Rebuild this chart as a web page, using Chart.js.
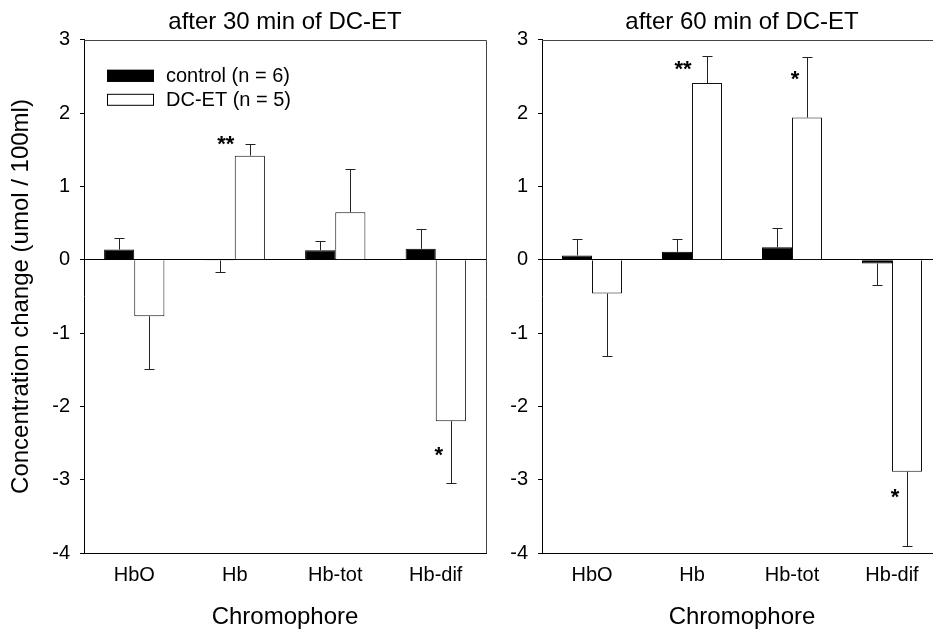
<!DOCTYPE html>
<html>
<head>
<meta charset="utf-8">
<script src="https://cdn.jsdelivr.net/npm/chart.js@4.4.0/dist/chart.umd.min.js"></script>
<style>
html, body { margin: 0; padding: 0; background: #fff; overflow: hidden; width: 933px; height: 629px; }
#left { position: absolute; left: 0; top: 0; }
#right { position: absolute; left: 488px; top: 0; }
</style>
</head>
<body>
<canvas id="left" width="490" height="629"></canvas>
<canvas id="right" width="458" height="629"></canvas>
<script>
////////////////// data //////////////////
var chromophores = ['HbO', 'Hb', 'Hb-tot', 'Hb-dif'];
var yTicks = [-4, -3, -2, -1, 0, 1, 2, 3];
var seriesNames = ['control (n = 6)', 'DC-ET (n = 5)'];

// after 30 min
var control30 = [0.14, -0.01, 0.13, 0.15];
var control30Err = [0.16, 0.15, 0.13, 0.27];
var dcet30 = [-0.77, 1.42, 0.65, -2.20];
var dcet30Err = [0.72, 0.16, 0.59, 0.84];
var stars30 = ['', '**', '', '*'];
var starLevel30 = [null, 1.60, null, -2.64];

// after 60 min
var control60 = [0.06, 0.11, 0.17, -0.05];
var control60Err = [0.22, 0.17, 0.26, 0.29];
var dcet60 = [-0.46, 2.41, 1.94, -2.89];
var dcet60Err = [0.85, 0.37, 0.83, 1.01];
var stars60 = ['', '**', '*', '*'];
var starLevel60 = [null, 2.63, 2.49, -3.20];

var FONT = "'Liberation Sans', Arial, sans-serif";

////////////////// plugins //////////////////
// error bars, drawn away from zero with a small cap
var errorBars = {
    id: 'errorBars',
    afterDatasetsDraw: function (chart) {
        var ctx = chart.ctx;
        var y = chart.scales.y;
        ctx.save();
        ctx.strokeStyle = '#222';
        ctx.lineWidth = 1;
        chart.data.datasets.forEach(function (ds, di) {
            var meta = chart.getDatasetMeta(di);
            meta.data.forEach(function (bar, i) {
                var v = ds.data[i];
                var end = v < 0 ? v - ds.errors[i] : v + ds.errors[i];
                var x = Math.round(bar.x) + 0.5;
                var y0 = y.getPixelForValue(v);
                var y1 = Math.round(y.getPixelForValue(end)) + 0.5;
                ctx.beginPath();
                ctx.moveTo(x, y0);
                ctx.lineTo(x, y1);
                ctx.moveTo(x - 5, y1);
                ctx.lineTo(x + 5, y1);
                ctx.stroke();
            });
        });
        ctx.restore();
    }
};

// significance stars next to the DC-ET bars
var starMarks = {
    id: 'starMarks',
    afterDatasetsDraw: function (chart, args, opts) {
        var ctx = chart.ctx;
        var meta = chart.getDatasetMeta(1);
        ctx.save();
        ctx.fillStyle = '#000';
        ctx.font = 'bold 22px ' + FONT;
        ctx.textAlign = 'center';
        ctx.textBaseline = 'alphabetic';
        opts.marks.forEach(function (m, i) {
            if (!m) return;
            var bar = meta.data[i];
            var x = bar.x - bar.width / 2 + (m.length > 1 ? -9 : 3);
            var yc = chart.scales.y.getPixelForValue(opts.levels[i]);
            ctx.fillText(m, x, yc + 9);
        });
        ctx.restore();
    }
};

// thin frame on top and right of the plot
var frame = {
    id: 'frame',
    beforeDatasetsDraw: function (chart) {
        var a = chart.chartArea;
        var ctx = chart.ctx;
        ctx.save();
        ctx.strokeStyle = '#444';
        ctx.lineWidth = 1;
        ctx.beginPath();
        ctx.moveTo(Math.round(a.left), Math.round(a.top) + 0.5);
        ctx.lineTo(Math.round(a.right) + 0.5, Math.round(a.top) + 0.5);
        ctx.lineTo(Math.round(a.right) + 0.5, a.bottom);
        ctx.stroke();
        ctx.restore();
    }
};

// legend inside the plot area
var innerLegend = {
    id: 'innerLegend',
    afterDraw: function (chart) {
        var ctx = chart.ctx;
        var a = chart.chartArea;
        ctx.save();
        ctx.font = '20px ' + FONT;
        ctx.textBaseline = 'middle';
        ctx.textAlign = 'left';
        chart.data.datasets.forEach(function (ds, i) {
            var bx = a.left + 23;
            var cy = a.top + 36 + i * 24;
            ctx.fillStyle = ds.backgroundColor;
            ctx.fillRect(bx, cy - 6, 47, 12);
            ctx.strokeStyle = '#000';
            ctx.lineWidth = 1;
            ctx.strokeRect(bx + 0.5, cy - 5.5, 46, 11);
            ctx.fillStyle = '#000';
            ctx.fillText(ds.label, bx + 59, cy + 1);
        });
        ctx.restore();
    }
};

function makeChart(id, title, ctrl, ctrlErr, dcet, dcetErr, marks, levels, axisWidth, showYTitle) {
    var plugins = [errorBars, starMarks, frame];
    if (showYTitle) plugins.push(innerLegend);
    return new Chart(document.getElementById(id), {
        type: 'bar',
        data: {
            labels: chromophores,
            datasets: [
                {
                    label: seriesNames[0],
                    data: ctrl,
                    errors: ctrlErr,
                    backgroundColor: '#000',
                    borderColor: '#000',
                    borderWidth: 1
                },
                {
                    label: seriesNames[1],
                    data: dcet,
                    errors: dcetErr,
                    backgroundColor: '#fff',
                    borderColor: '#111',
                    borderWidth: 1
                }
            ]
        },
        plugins: plugins,
        options: {
            responsive: false,
            animation: false,
            categoryPercentage: 0.6,
            barPercentage: 1.0,
            layout: { padding: { left: 0, right: 4, top: 0, bottom: -3 } },
            plugins: {
                legend: { display: false },
                tooltip: { enabled: false },
                title: {
                    display: true,
                    text: title,
                    fullSize: false,
                    color: '#000',
                    font: { family: FONT, size: 24, weight: 'normal' },
                    padding: { top: 8, bottom: 3 }
                },
                starMarks: { marks: marks, levels: levels }
            },
            scales: {
                x: {
                    grid: { display: true, drawOnChartArea: false, drawTicks: false },
                    border: { color: '#000', width: 1 },
                    ticks: { color: '#000', padding: 10, font: { family: FONT, size: 20 } },
                    title: {
                        display: true,
                        text: 'Chromophore',
                        color: '#000',
                        font: { family: FONT, size: 24 },
                        padding: { top: 6, bottom: 0 }
                    }
                },
                y: {
                    min: yTicks[0],
                    max: yTicks[yTicks.length - 1],
                    afterFit: function (scale) { scale.width = axisWidth; },
                    afterBuildTicks: function (scale) {
                        scale.ticks = yTicks.map(function (v) { return { value: v }; });
                    },
                    grid: {
                        color: function (c) { return c.tick && c.tick.value === 0 ? '#000' : 'rgba(0,0,0,0)'; },
                        tickColor: '#000',
                        tickLength: 4,
                        lineWidth: 1
                    },
                    border: { color: '#000', width: 1 },
                    ticks: { color: '#000', padding: 10, font: { family: FONT, size: 20 } },
                    title: {
                        display: showYTitle,
                        text: 'Concentration change (umol / 100ml)',
                        color: '#000',
                        font: { family: FONT, size: 24 },
                        padding: { top: 7, bottom: 0 }
                    }
                }
            }
        }
    });
}

makeChart('left', 'after 30 min of DC-ET', control30, control30Err, dcet30, dcet30Err, stars30, starLevel30, 84, true);
makeChart('right', 'after 60 min of DC-ET', control60, control60Err, dcet60, dcet60Err, stars60, starLevel60, 54, false);
</script>
</body>
</html>
